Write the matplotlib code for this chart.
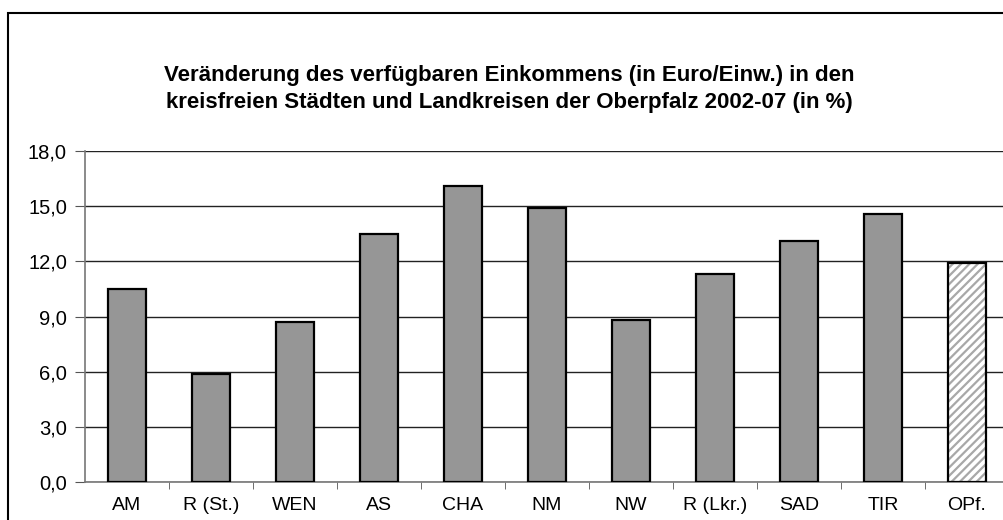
import matplotlib
matplotlib.use("Agg")
import matplotlib.pyplot as plt
from matplotlib.patches import Rectangle
from matplotlib.ticker import FuncFormatter

kreise = ["AM", "R (St.)", "WEN", "AS", "CHA", "NM", "NW", "R (Lkr.)", "SAD", "TIR", "OPf."]
veraenderung = [10.5, 5.9, 8.7, 13.5, 16.1, 14.9, 8.8, 11.3, 13.1, 14.6, 11.9]
y_ticks = [0, 3, 6, 9, 12, 15, 18]
titel = ("Veränderung des verfügbaren Einkommens (in Euro/Einw.) in den\n"
         "kreisfreien Städten und Landkreisen der Oberpfalz 2002-07 (in %)")

plt.rcParams["font.family"] = ["Liberation Sans", "DejaVu Sans"]
plt.rcParams["hatch.linewidth"] = 1.6

fig = plt.figure(figsize=(10.04, 5.2), dpi=100)
fig.patches.append(Rectangle((8 / 1004, -0.1), 1.1, 1.1 - 13 / 520,
                             transform=fig.transFigure, fill=False,
                             edgecolor="black", linewidth=1.5))

ax = fig.add_axes([85 / 1004, 1 - 482 / 520, 924 / 1004, 331 / 520])

x = list(range(len(kreise)))
n_kreise = len(kreise) - 1
ax.bar(x[:n_kreise], veraenderung[:n_kreise], width=0.46, color="#969696",
       edgecolor="black", linewidth=1.6, zorder=3)
# Oberpfalz gesamt: schraffiert
ax.bar(x[n_kreise:], veraenderung[n_kreise:], width=0.46, color="white",
       edgecolor="#a8a8a8", hatch="////", linewidth=0, zorder=3)
ax.bar(x[n_kreise:], veraenderung[n_kreise:], width=0.46, fill=False,
       edgecolor="black", linewidth=1.6, zorder=4)

ax.set_xlim(-0.5, len(kreise) - 0.5)
ax.set_ylim(0, 18)
ax.set_yticks(y_ticks)
ax.yaxis.set_major_formatter(FuncFormatter(lambda v, p: f"{v:.1f}".replace(".", ",")))
ax.yaxis.grid(True, color="#222222", linewidth=1.0, zorder=0)

ax.set_xticks(x)
ax.set_xticklabels(kreise)
ax.set_xticks([i + 0.5 for i in x[:-1]], minor=True)
ax.tick_params(axis="x", which="major", length=0, pad=11, labelsize=14)
ax.tick_params(axis="x", which="minor", length=5, color="#555555", direction="out")
ax.tick_params(axis="y", length=7, color="#555555", pad=6, labelsize=14.5)

for s in ["top", "right"]:
    ax.spines[s].set_visible(False)
for s in ["left", "bottom"]:
    ax.spines[s].set_color("#777777")
    ax.spines[s].set_linewidth(1.2)

fig.text(509 / 1004, 1 - 89 / 520, titel, ha="center", va="center",
         fontsize=16, fontweight="bold", linespacing=1.4)

fig.savefig("out.png", dpi=100)
